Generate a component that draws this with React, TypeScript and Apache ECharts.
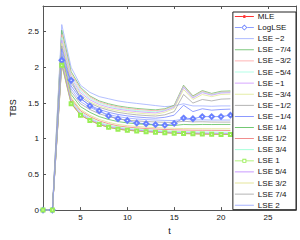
import React, { useEffect, useRef } from "react";
import * as echarts from "echarts";

const T = [1, 2, 3, 4, 5, 6, 7, 8, 9, 10, 11, 12, 13, 14, 15, 16, 17, 18, 19, 20, 21];

const MLE = [0, 0, 2.05, 1.5, 1.33, 1.26, 1.2, 1.16, 1.135, 1.12, 1.11, 1.1, 1.093, 1.085, 1.078, 1.073, 1.07, 1.067, 1.064, 1.062, 1.06];
const LOGLSE = [0, 0, 2.1, 1.82, 1.57, 1.46, 1.39, 1.32, 1.28, 1.256, 1.22, 1.21, 1.197, 1.19, 1.215, 1.29, 1.28, 1.31, 1.31, 1.31, 1.33];
const LSE_M2 = [0, 0, 2.6, 2.0, 1.75, 1.65, 1.59, 1.56, 1.53, 1.51, 1.495, 1.48, 1.465, 1.45, 1.46, 1.49, 1.46, 1.46, 1.455, 1.46, 1.46];
const LSE_M74 = [0, 0, 2.52, 1.94, 1.72, 1.6, 1.53, 1.49, 1.46, 1.44, 1.425, 1.414, 1.405, 1.42, 1.47, 1.75, 1.6, 1.675, 1.635, 1.665, 1.67];
const LSE_M32 = [0, 0, 2.46, 1.91, 1.695, 1.585, 1.515, 1.475, 1.445, 1.425, 1.41, 1.4, 1.392, 1.41, 1.46, 1.74, 1.59, 1.665, 1.625, 1.655, 1.66];
const LSE_M54 = [0, 0, 2.42, 1.88, 1.67, 1.565, 1.5, 1.46, 1.43, 1.41, 1.395, 1.385, 1.377, 1.4, 1.45, 1.73, 1.58, 1.655, 1.62, 1.65, 1.655];
const LSE_M1 = [0, 0, 2.38, 1.85, 1.645, 1.545, 1.48, 1.44, 1.415, 1.395, 1.38, 1.37, 1.362, 1.39, 1.44, 1.72, 1.57, 1.645, 1.61, 1.64, 1.645];
const LSE_M34 = [0, 0, 2.34, 1.82, 1.62, 1.52, 1.46, 1.42, 1.395, 1.375, 1.36, 1.35, 1.342, 1.37, 1.425, 1.69, 1.55, 1.62, 1.59, 1.62, 1.625];
const LSE_M12 = [0, 0, 2.3, 1.78, 1.59, 1.5, 1.44, 1.4, 1.37, 1.35, 1.335, 1.325, 1.318, 1.335, 1.38, 1.62, 1.5, 1.55, 1.53, 1.555, 1.56];
const LSE_M14 = [0, 0, 2.26, 1.74, 1.56, 1.47, 1.41, 1.37, 1.34, 1.32, 1.305, 1.295, 1.288, 1.3, 1.33, 1.47, 1.38, 1.42, 1.4, 1.41, 1.415];
const LSE_14 = [0, 0, 2.16, 1.62, 1.45, 1.37, 1.31, 1.27, 1.24, 1.222, 1.21, 1.2, 1.193, 1.188, 1.186, 1.2, 1.197, 1.2, 1.199, 1.2, 1.2];
const LSE_12 = [0, 0, 2.11, 1.56, 1.39, 1.31, 1.25, 1.21, 1.18, 1.163, 1.152, 1.143, 1.136, 1.13, 1.125, 1.122, 1.12, 1.119, 1.118, 1.117, 1.116];
const LSE_34 = [0, 0, 2.09, 1.54, 1.37, 1.29, 1.23, 1.19, 1.162, 1.145, 1.134, 1.124, 1.116, 1.109, 1.103, 1.099, 1.097, 1.095, 1.094, 1.093, 1.092];
const LSE_1 = [0, 0, 2.03, 1.49, 1.33, 1.255, 1.2, 1.16, 1.133, 1.118, 1.108, 1.099, 1.091, 1.083, 1.077, 1.072, 1.069, 1.066, 1.063, 1.061, 1.059];
const LSE_54 = [0, 0, 2.07, 1.52, 1.35, 1.275, 1.215, 1.175, 1.148, 1.132, 1.121, 1.111, 1.103, 1.095, 1.089, 1.085, 1.082, 1.079, 1.077, 1.075, 1.074];
const LSE_32 = [0, 0, 2.13, 1.58, 1.41, 1.33, 1.27, 1.23, 1.2, 1.183, 1.172, 1.163, 1.156, 1.15, 1.146, 1.143, 1.142, 1.141, 1.14, 1.14, 1.14];
const LSE_74 = [0, 0, 2.19, 1.66, 1.49, 1.41, 1.35, 1.31, 1.28, 1.26, 1.25, 1.241, 1.235, 1.23, 1.228, 1.245, 1.236, 1.238, 1.234, 1.233, 1.233];
const LSE_2 = [0, 0, 2.22, 1.7, 1.52, 1.44, 1.38, 1.34, 1.31, 1.29, 1.277, 1.268, 1.262, 1.257, 1.255, 1.275, 1.262, 1.265, 1.262, 1.262, 1.262];

const X_TICKS = [5, 10, 15, 20, 25];
const Y_TICKS = [0, 0.5, 1, 1.5, 2, 2.5];

// Legend icon shapes (line sample, optionally with a marker in its middle)
const ICON_LINE = "path://M0,4.1L19,4.1L19,4.9L0,4.9Z";
const ICON_DOT =
  "path://M0,4.1L7.9,4.1L7.9,4.9L0,4.9Z M11.1,4.1L19,4.1L19,4.9L11.1,4.9Z M7.9,4.5A1.6,1.6 0 1,1 11.1,4.5A1.6,1.6 0 1,1 7.9,4.5Z";
const ICON_DIAMOND =
  "path://M0,4.1L6.5,4.1L6.5,4.9L0,4.9Z M12.5,4.1L19,4.1L19,4.9L12.5,4.9Z M9.5,1.5L12.5,4.5L9.5,7.5L6.5,4.5Z M9.5,2.6L7.6,4.5L9.5,6.4L11.4,4.5Z";
const ICON_SQUARE =
  "path://M0,4.1L7.5,4.1L7.5,4.9L0,4.9Z M11.5,4.1L19,4.1L19,4.9L11.5,4.9Z M7.5,2.5L11.5,2.5L11.5,6.5L7.5,6.5Z M8.4,3.4L8.4,5.6L10.6,5.6L10.6,3.4Z";

const SERIES_DEFS = [
  { name: "MLE", values: MLE, color: "#ff3333", symbol: "circle", size: 3, icon: ICON_DOT },
  { name: "LogLSE", values: LOGLSE, color: "#6a80ff", symbol: "emptyDiamond", size: 4.5, icon: ICON_DIAMOND },
  { name: "LSE −2", values: LSE_M2, color: "#9aaaff", symbol: "none", size: 0, icon: ICON_LINE },
  { name: "LSE −7/4", values: LSE_M74, color: "#60bb60", symbol: "none", size: 0, icon: ICON_LINE },
  { name: "LSE −3/2", values: LSE_M32, color: "#ffa0a0", symbol: "none", size: 0, icon: ICON_LINE },
  { name: "LSE −5/4", values: LSE_M54, color: "#a0ffe0", symbol: "none", size: 0, icon: ICON_LINE },
  { name: "LSE −1", values: LSE_M1, color: "#cc90ff", symbol: "none", size: 0, icon: ICON_LINE },
  { name: "LSE −3/4", values: LSE_M34, color: "#dde890", symbol: "none", size: 0, icon: ICON_LINE },
  { name: "LSE −1/2", values: LSE_M12, color: "#a0a0a0", symbol: "none", size: 0, icon: ICON_LINE },
  { name: "LSE −1/4", values: LSE_M14, color: "#7080ff", symbol: "none", size: 0, icon: ICON_LINE },
  { name: "LSE 1/4", values: LSE_14, color: "#50bb50", symbol: "none", size: 0, icon: ICON_LINE },
  { name: "LSE 1/2", values: LSE_12, color: "#ee7070", symbol: "none", size: 0, icon: ICON_LINE },
  { name: "LSE 3/4", values: LSE_34, color: "#90ffd0", symbol: "none", size: 0, icon: ICON_LINE },
  { name: "LSE 1", values: LSE_1, color: "#99ee55", symbol: "emptyRect", size: 3, icon: ICON_SQUARE },
  { name: "LSE 5/4", values: LSE_54, color: "#bb80ff", symbol: "none", size: 0, icon: ICON_LINE },
  { name: "LSE 3/2", values: LSE_32, color: "#dddd80", symbol: "none", size: 0, icon: ICON_LINE },
  { name: "LSE 7/4", values: LSE_74, color: "#a0a0a0", symbol: "none", size: 0, icon: ICON_LINE },
  { name: "LSE 2", values: LSE_2, color: "#90a0ff", symbol: "none", size: 0, icon: ICON_LINE },
];

const FONT = "'Liberation Sans', Arial, Helvetica, sans-serif";
const AXIS_COLOR = "#555555";

export default function App() {
  const ref = useRef<HTMLDivElement>(null);

  useEffect(() => {
    if (!ref.current) return;
    const chart = echarts.init(ref.current, null, { renderer: "svg" });

    const baseX = {
      type: "value",
      min: 1,
      max: 28,
      splitLine: { show: false },
      axisLine: { show: true, onZero: false, lineStyle: { color: AXIS_COLOR, width: 1 } },
      axisTick: { show: true, inside: true, length: 3, customValues: X_TICKS, lineStyle: { color: AXIS_COLOR } },
      axisLabel: { show: true, customValues: X_TICKS, margin: 3, color: "#111", fontSize: 8, fontFamily: FONT },
    };
    const baseY = {
      type: "value",
      min: 0,
      max: 2.86,
      splitLine: { show: false },
      axisLine: { show: true, onZero: false, lineStyle: { color: AXIS_COLOR, width: 1 } },
      axisTick: { show: true, inside: true, length: 3, customValues: Y_TICKS, lineStyle: { color: AXIS_COLOR } },
      axisLabel: { show: true, customValues: Y_TICKS, margin: 4, color: "#111", fontSize: 8, fontFamily: FONT },
    };

    chart.setOption({
      animation: false,
      backgroundColor: "#ffffff",
      grid: { left: 28, right: 4, top: 6, bottom: 23, containLabel: false },
      xAxis: [
        { ...baseX, position: "bottom", name: "t", nameLocation: "middle", nameGap: 14, nameTextStyle: { color: "#111", fontSize: 9, fontFamily: FONT } },
        { ...baseX, position: "top", axisLabel: { show: false } },
      ],
      yAxis: [
        { ...baseY, position: "left", name: "TBS", nameLocation: "middle", nameGap: 22, nameTextStyle: { color: "#111", fontSize: 9, fontFamily: FONT } },
        { ...baseY, position: "right", axisLabel: { show: false } },
      ],
      legend: {
        orient: "vertical",
        right: 4,
        top: 12,
        padding: [0, 5, 0, 2],
        itemWidth: 19,
        itemHeight: 9,
        itemGap: 2.1,
        symbolKeepAspect: true,
        backgroundColor: "#ffffff",
        borderColor: "#222222",
        borderWidth: 1,
        borderRadius: 0,
        itemStyle: { borderWidth: 0 },
        textStyle: { fontSize: 8, lineHeight: 9, color: "#111", fontFamily: FONT, padding: [0, 0, 0, -1] },
        data: SERIES_DEFS.map((s) => ({ name: s.name, icon: s.icon, itemStyle: { color: s.color, borderWidth: 0 } })),
      },
      series: SERIES_DEFS.map((s) => ({
        name: s.name,
        type: "line",
        xAxisIndex: 0,
        yAxisIndex: 0,
        data: T.map((t, i) => [t, s.values[i]]),
        symbol: s.symbol,
        symbolSize: s.size,
        showSymbol: s.symbol !== "none",
        color: s.color,
        lineStyle: { color: s.color, width: 0.75 },
        itemStyle: { color: s.color, borderColor: s.color, borderWidth: 0.8 },
        emphasis: { disabled: true },
      })),
    });

    return () => chart.dispose();
  }, []);

  return (
    <div
      ref={ref}
      style={{ position: "fixed", left: 0, top: 0, width: 300, height: 240, background: "#fff" }}
    />
  );
}
